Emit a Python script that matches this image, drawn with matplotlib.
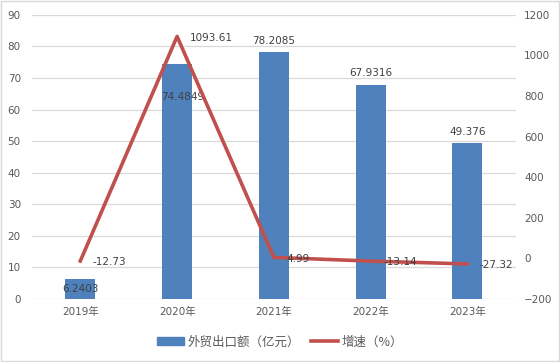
import matplotlib
matplotlib.use("Agg")
import matplotlib.pyplot as plt
from matplotlib.patches import Rectangle, Patch
from matplotlib.lines import Line2D

plt.rcParams['font.family'] = ['DejaVu Sans', 'Noto Sans CJK SC']

years = ['2019年', '2020年', '2021年', '2022年', '2023年']
exports = [6.2403, 74.4849, 78.2085, 67.9316, 49.376]
growth = [-12.73, 1093.61, 4.99, -13.14, -27.32]
bar_labels = ['6.2403', '74.4849', '78.2085', '67.9316', '49.376']
growth_labels = ['-12.73', '1093.61', '4.99', '-13.14', '-27.32']

bar_color = '#4F81BD'
line_color = '#C0504D'
tick_color = '#595959'
text_color = '#404040'

fig = plt.figure(figsize=(5.6, 3.62), dpi=100)
ax = fig.add_axes([0.057, 0.174, 0.864, 0.785])
ax2 = ax.twinx()

x = list(range(len(years)))
ax.bar(x, exports, width=0.31, color=bar_color, zorder=2)
ax.set_ylim(0, 90)
ax.set_yticks(range(0, 91, 10))
ax.set_xlim(-0.5, 4.5)
ax.set_xticks(x)
ax.set_xticklabels(years, family=['DejaVu Sans', 'Noto Sans CJK SC'])
ax.grid(axis='y', color='#D9D9D9', linewidth=0.9)
ax.set_axisbelow(True)

ax2.plot(x, growth, color=line_color, linewidth=2.6, zorder=3)
ax2.set_ylim(-200, 1200)
ax2.set_yticks(range(-200, 1201, 200))

for a in (ax, ax2):
    for s in a.spines.values():
        s.set_visible(False)
    a.tick_params(length=0, labelsize=7.5, colors=tick_color)
ax.tick_params(axis='x', pad=6)
ax.tick_params(axis='y', pad=8)
ax2.tick_params(axis='y', pad=6)

# bar value labels (offsets in points, as placed in the original)
bar_offsets = [(0, -7), (4, -24), (0, 8), (0, 8), (0, 8)]
for i, v in enumerate(exports):
    ax.annotate(bar_labels[i], (x[i], v), xytext=bar_offsets[i],
                textcoords='offset points', ha='center', va='center',
                fontsize=7.5, color=text_color, zorder=5)

# growth labels to the right of the points
for i, v in enumerate(growth):
    ax2.annotate(growth_labels[i], (x[i], v), xytext=(9, -1),
                 textcoords='offset points', ha='left', va='center',
                 fontsize=7.5, color=text_color, zorder=5)

handles = [Patch(color=bar_color), Line2D([0], [0], color=line_color, linewidth=2.6)]
fig.legend(handles, ['外贸出口额（亿元）', '增速（%）'], loc='center',
           bbox_to_anchor=(0.5, 0.055), ncol=2, frameon=False,
           prop={'family': ['Noto Sans CJK SC'], 'size': 9},
           labelcolor=tick_color, handlelength=2.2, handleheight=0.6,
           columnspacing=0.8, handletextpad=0.3)

fig.patches.append(Rectangle((0.002, 0.003), 0.996, 0.994, transform=fig.transFigure,
                             fill=False, edgecolor='#D9D9D9', linewidth=1))

fig.savefig('out.png', dpi=100)
